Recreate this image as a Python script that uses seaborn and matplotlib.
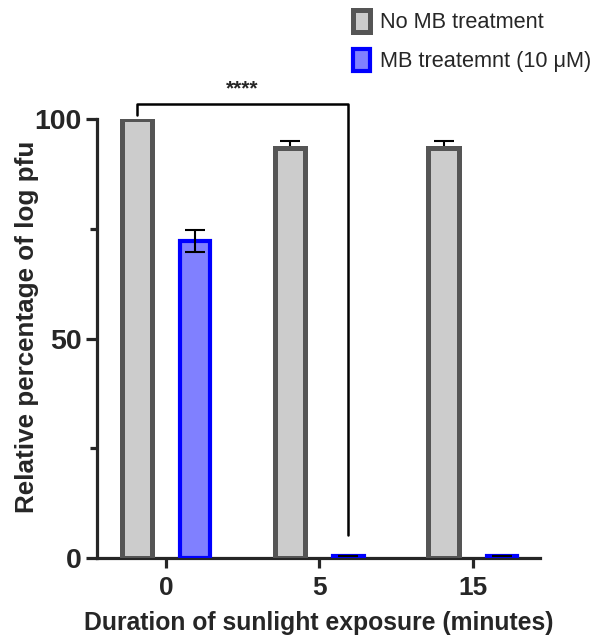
import matplotlib
matplotlib.use("Agg")
from matplotlib import pyplot as plt
from matplotlib.ticker import MultipleLocator
import seaborn as sns
import pandas as pd

times = ["0", "5", "15"]
groups = ["No MB treatment", "MB treatemnt (10 \u03bcM)"]
no_mb = [100.0, 93.4, 93.3]
no_mb_err = [0.0, 1.6, 1.6]
mb = [72.2, 0.6, 0.6]
mb_err = [2.5, 0.0, 0.0]

sns.set_theme(style="ticks")
plt.rcParams["font.family"] = ["Liberation Sans", "DejaVu Sans"]

df = pd.DataFrame({
    "time": times * 2,
    "group": [groups[0]] * 3 + [groups[1]] * 3,
    "value": no_mb + mb,
})

fig = plt.figure(figsize=(5.91, 6.38), dpi=100)
ax = fig.add_axes([0.164, 0.125, 0.75, 0.6885])

sns.barplot(data=df, x="time", y="value", hue="group", order=times,
            hue_order=groups, palette=["#cccccc", "#8080ff"], saturation=1,
            width=0.76, gap=0.48, errorbar=None, legend=False, ax=ax)

edges = ["#555555", "#0000ff"]
lws = [3.6, 3.0]
for cont, ec, lw in zip(ax.containers, edges, lws):
    for p in cont.patches:
        p.set_edgecolor(ec)
        p.set_linewidth(lw)
        p.set_zorder(3)

# error bars: gray under bars (lower half hidden), blue on top
gx = [p.get_x() + p.get_width() / 2 for p in ax.containers[0].patches]
bx = [p.get_x() + p.get_width() / 2 for p in ax.containers[1].patches]
ax.errorbar(gx, no_mb, yerr=no_mb_err, fmt="none", ecolor="black",
            elinewidth=1.5, capsize=7.5, capthick=1.5, zorder=2)
ax.errorbar(bx, mb, yerr=mb_err, fmt="none", ecolor="black",
            elinewidth=1.5, capsize=7.5, capthick=1.5, zorder=4)

# significance bracket
x1, x2 = gx[0], bx[1]
ax.plot([x1, x1, x2, x2], [101.0, 103.5, 103.5, 5.2], color="black",
        lw=1.8, clip_on=False, zorder=5)
ax.text((x1 + x2) / 2, 104.8, "****", ha="center", va="bottom",
        fontsize=15, fontweight="bold", clip_on=False)

ax.set_xlim(-0.45, 2.44)
ax.set_ylim(0, 100)
ax.yaxis.set_major_locator(MultipleLocator(50))
ax.yaxis.set_minor_locator(MultipleLocator(25))
sns.despine(ax=ax)
for s in ["left", "bottom"]:
    ax.spines[s].set_linewidth(2.3)
ax.tick_params(axis="y", which="major", length=8, width=2.3, labelsize=20.5, pad=3)
ax.tick_params(axis="y", which="minor", length=5, width=2.3)
ax.tick_params(axis="x", length=7, width=2.3, labelsize=19, pad=6)
for lab in ax.get_xticklabels() + ax.get_yticklabels():
    lab.set_fontweight("bold")

ax.set_xlabel("Duration of sunlight exposure (minutes)", fontsize=17.8,
              fontweight="bold", labelpad=8)
ax.set_ylabel("Relative percentage of log pfu", fontsize=18.7,
              fontweight="bold")
ax.yaxis.set_label_coords(-0.131, 0.528)

ax.legend(ax.containers, groups, loc="upper left",
          bbox_to_anchor=(0.575, 1.005), bbox_transform=fig.transFigure,
          frameon=False, fontsize=15.7, handlelength=0.8, handleheight=1.2,
          handletextpad=0.45, labelspacing=0.7, borderaxespad=0.2)

fig.savefig("out.png", dpi=100)
